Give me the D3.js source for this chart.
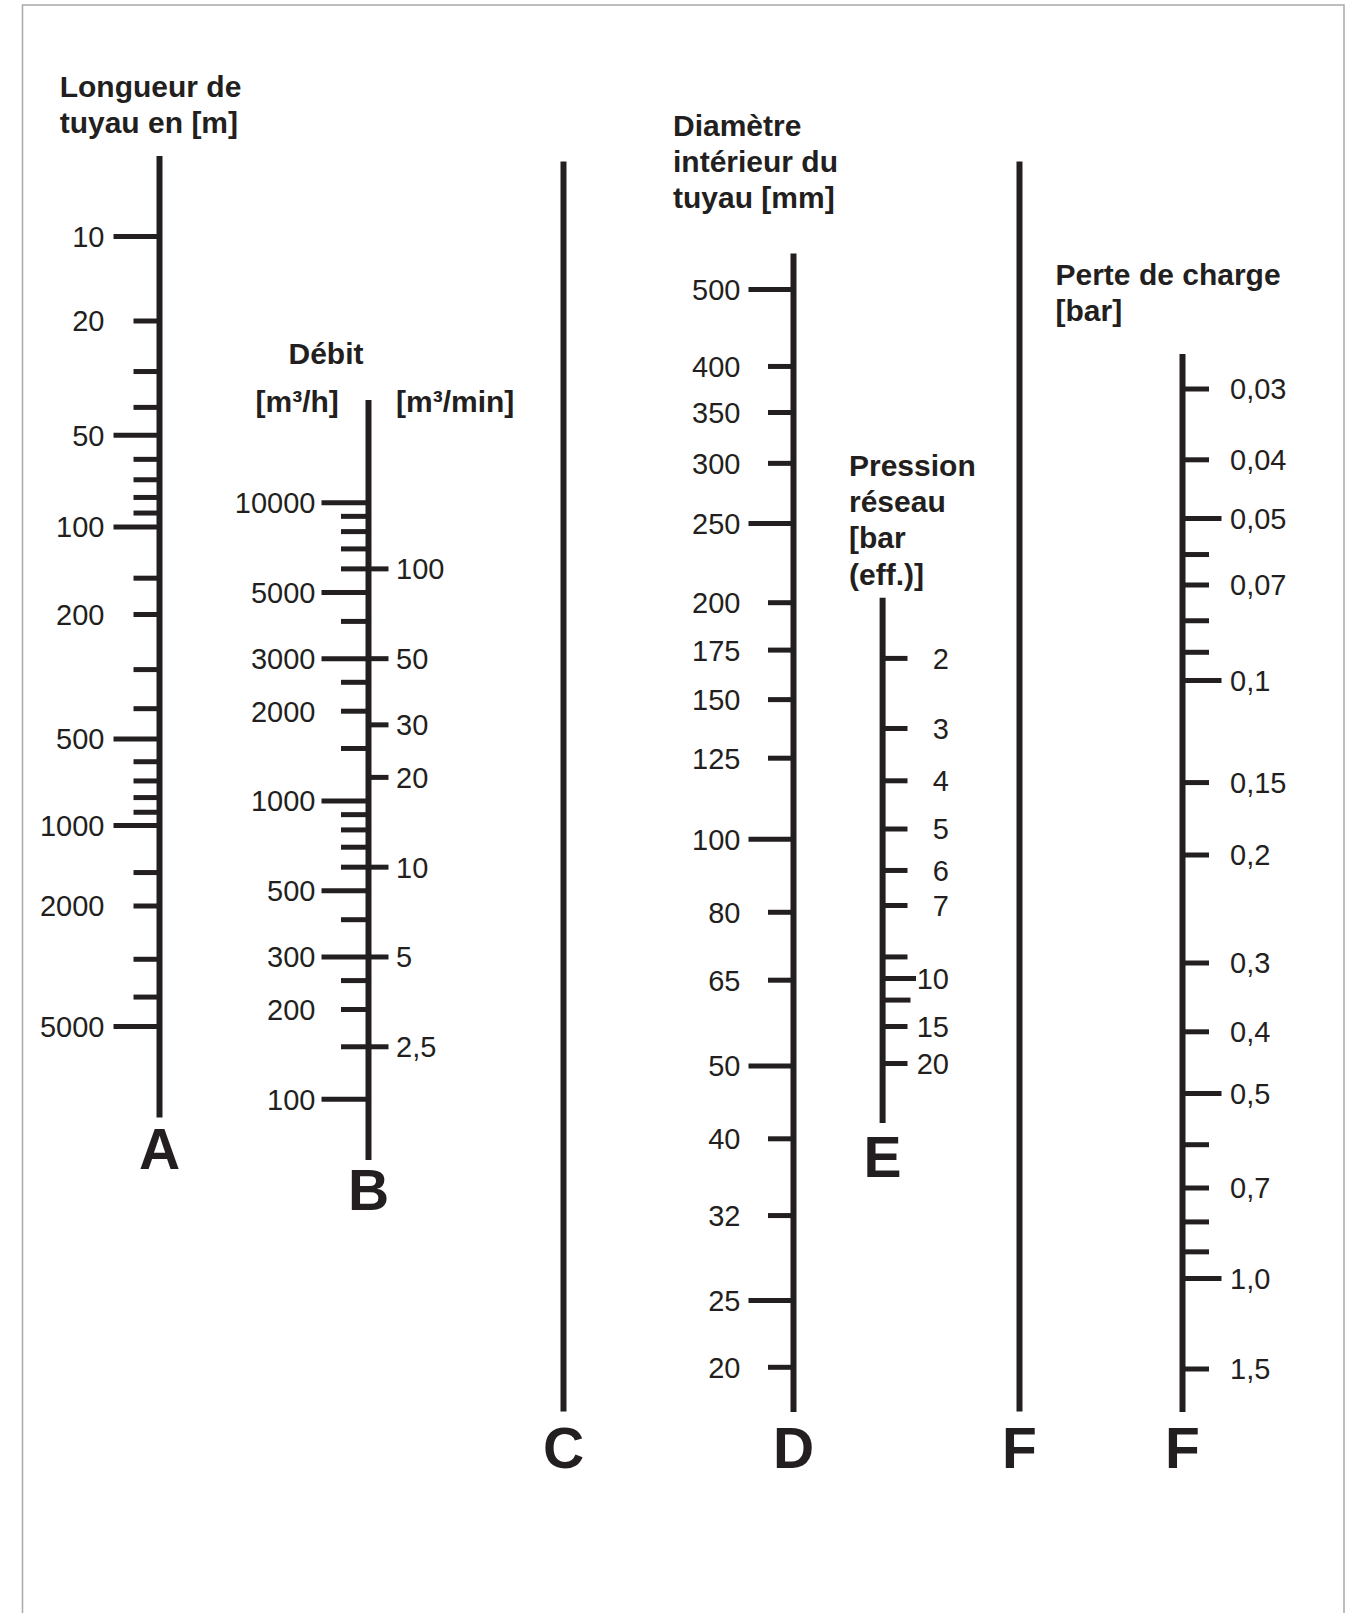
<!DOCTYPE html>
<html><head><meta charset="utf-8">
<script src="https://cdn.jsdelivr.net/npm/d3@7"></script>
<style>html,body{margin:0;padding:0;background:#fff}svg{display:block}</style>
</head><body>
<script>
// ---------------- DATA ----------------
const lengthTicks  = [10,20,30,40,50,60,70,80,90,100,150,200,300,400,500,600,700,800,900,1000,1500,2000,3000,4000,5000];
const lengthMajor  = [10,50,100,500,1000,5000];
const lengthLabels = [10,20,50,100,200,500,1000,2000,5000];

const flowHourTicks  = [100,150,200,250,300,400,500,600,700,800,900,1000,1500,2000,2500,3000,4000,5000,6000,7000,8000,9000,10000];
const flowHourMajor  = [100,300,500,1000,3000,5000,10000];
const flowHourLabels = [100,200,300,500,1000,2000,3000,5000,10000];
const flowMinTicks   = [2.5,5,10,20,30,50,100];
const flowMinLabels  = ["2,5","5","10","20","30","50","100"];
const minutesPerHour = 60;

const diameterTicks = [20,25,32,40,50,65,80,100,125,150,175,200,250,300,350,400,500];
const diameterMajor = [25,50,100,250,500];

const pressureTicks  = [2,3,4,5,6,7,9,10,12,15,20];
const pressureLong   = [10];
const pressureMid    = [12];
const pressureLabels = [2,3,4,5,6,7,10,15,20];

const lossTicks      = [0.03,0.04,0.05,0.06,0.07,0.08,0.09,0.1,0.15,0.2,0.3,0.4,0.5,0.6,0.7,0.8,0.9,1.0,1.5];
const lossMajor      = [0.05,0.1,0.5,1.0];
const lossLabelVals  = [0.03,0.04,0.05,0.07,0.1,0.15,0.2,0.3,0.4,0.5,0.7,1.0,1.5];
const lossLabelText  = ["0,03","0,04","0,05","0,07","0,1","0,15","0,2","0,3","0,4","0,5","0,7","1,0","1,5"];

const titleA = ["Longueur de","tuyau en [m]"];
const titleB = "Débit", unitB1 = "[m³/h]", unitB2 = "[m³/min]";
const titleD = ["Diamètre","intérieur du","tuyau [mm]"];
const titleE = ["Pression","réseau","[bar","(eff.)]"];
const titleF = ["Perte de charge","[bar]"];
const axisLetters = ["A","B","C","D","E","F","F"];

// ---------------- LAYOUT ----------------
const W = 1360, H = 1613, INK = "#231f20";
const LABEL_FONT = "'Liberation Sans', Arial, Helvetica, sans-serif";
const svg = d3.select("body").append("svg").attr("width", W).attr("height", H);

svg.append("rect").attr("x",22.5).attr("y",5).attr("width",1321.5).attr("height",1700)
   .attr("fill","none").attr("stroke","#a7a9ac").attr("stroke-width",1.5);

// log scales, calibrated piecewise on the printed scale's reference graduations
const yA = d3.scaleLog().domain([10,20,50,100,200,500,1000,2000,5000])
  .range([236.5,321,435.2,527,614.5,739,825.4,906,1026.4]);
const yB = d3.scaleLog().domain([100,10000]).range([1099.3,502.7]);
const yD = d3.scaleLog().domain([20,25,40,50,100,125,175,250,350,500])
  .range([1367.3,1300.5,1138.8,1066,839.3,758.2,650.1,523.5,412.5,289.5]);
const yE = d3.scaleLog().domain([2,3,4,5,7,10,15,20])
  .range([658.4,728.5,780.8,829,905.5,978.5,1026.5,1063.5]);
const yF = d3.scaleLog().domain([0.03,0.04,0.05,0.07,0.1,0.2,0.3,0.4,0.5,0.7,1.0,1.5])
  .range([389,459.8,518.5,585,680.5,855,963,1031.8,1093.5,1188,1278.6,1369]);

function vline(x, y0, y1){
  svg.append("line").attr("x1",x).attr("x2",x).attr("y1",y0).attr("y2",y1)
     .attr("stroke",INK).attr("stroke-width",6);
}
function ticks(values, scale, x1fn, x2fn){
  svg.append("g").selectAll("line").data(values).join("line")
    .attr("x1", d => typeof x1fn === "function" ? x1fn(d) : x1fn)
    .attr("x2", d => typeof x2fn === "function" ? x2fn(d) : x2fn)
    .attr("y1", d => scale(d)).attr("y2", d => scale(d))
    .attr("stroke", INK).attr("stroke-width", 5);
}
function labels(values, texts, scale, x, anchor){
  svg.append("g").selectAll("text").data(values).join("text")
    .attr("x", x).attr("y", d => scale(d)).attr("dy","0.36em")
    .attr("text-anchor", anchor)
    .attr("font-family", LABEL_FONT).attr("font-size", 29).attr("fill", INK)
    .text((d,i) => texts ? texts[i] : d);
}
function title(lines, x, y0, step, anchor){
  svg.append("g").selectAll("text").data(lines).join("text")
    .attr("x", x).attr("y", (d,i) => y0 + i*step)
    .attr("text-anchor", anchor || "start")
    .attr("font-family", LABEL_FONT).attr("font-weight","bold").attr("font-size", 30).attr("fill", INK)
    .text(d => d);
}
function letter(t, x, y){
  svg.append("text").attr("x",x).attr("y",y).attr("text-anchor","middle")
    .attr("font-family", LABEL_FONT).attr("font-weight","bold").attr("font-size",57).attr("fill",INK).text(t);
}

// ---- Axis A : length ----
const xA = 159.5;
vline(xA, 156, 1117.5);
ticks(lengthTicks, yA, d => lengthMajor.includes(d) ? 113.5 : 133.5, xA);
labels(lengthLabels, null, yA, 104.5, "end");
title(titleA, 59.7, 96.5, 36);
letter(axisLetters[0], xA, 1168.5);

// ---- Axis B : flow ----
const xB = 368.5;
vline(xB, 400, 1160);
ticks(flowHourTicks, yB, d => flowHourMajor.includes(d) ? 321.5 : 341, xB);
const yBmin = v => yB(v * minutesPerHour);
ticks(flowMinTicks, yBmin, xB, 388.5);
labels(flowHourLabels, null, yB, 315.5, "end");
labels(flowMinTicks, flowMinLabels, yBmin, 396, "start");
title([titleB], 326, 363.5, 0, "middle");
title([unitB1], 255.5, 412, 0, "start");
title([unitB2], 396, 412, 0, "start");
letter(axisLetters[1], xB, 1210);

// ---- Axis C ----
const xC = 563.5;
vline(xC, 161.5, 1411.5);
letter(axisLetters[2], xC, 1468);

// ---- Axis D : diameter ----
const xD = 793.5;
vline(xD, 253.5, 1412);
ticks(diameterTicks, yD, d => diameterMajor.includes(d) ? 748.5 : 768, xD);
labels(diameterTicks, null, yD, 740.5, "end");
title(titleD, 673, 135.5, 36);
letter(axisLetters[3], xD, 1468);

// ---- Axis E : network pressure ----
const xE = 882.6;
vline(xE, 597.7, 1123);
ticks(pressureTicks, yE, xE, d => pressureLong.includes(d) ? 916 : (pressureMid.includes(d) ? 910.5 : 907.5));
labels(pressureLabels, null, yE, 949, "end");
title(titleE, 849, 476, 36.2);
letter(axisLetters[4], xE, 1177);

// ---- Axis F (plain) ----
const xF1 = 1019.5;
vline(xF1, 161.5, 1411.5);
letter(axisLetters[5], xF1, 1468);

// ---- Axis F : pressure loss ----
const xF = 1182.5;
vline(xF, 354, 1412);
ticks(lossTicks, yF, xF, d => lossMajor.includes(d) ? 1221.5 : 1209);
labels(lossLabelVals, lossLabelText, yF, 1230, "start");
title(titleF, 1055.5, 285, 36);
letter(axisLetters[6], xF, 1468);
</script>
</body></html>
